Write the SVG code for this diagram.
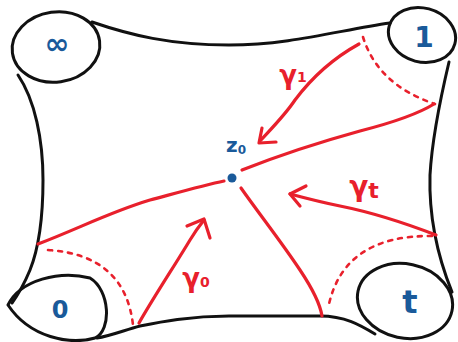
<svg xmlns="http://www.w3.org/2000/svg" width="458" height="342" viewBox="0 0 458 342">
<style>
.blk{fill:none;stroke:#111;stroke-width:3;stroke-linecap:round;stroke-linejoin:round}
.red{fill:none;stroke:#e8202c;stroke-width:3.2;stroke-linecap:round;stroke-linejoin:round}
.dot{fill:none;stroke:#e8202c;stroke-width:2.6;stroke-linecap:round;stroke-dasharray:4 6}
.lab{font-family:"DejaVu Sans",sans-serif;fill:#1a5a9a;text-anchor:middle;font-weight:bold}
.rl{font-family:"DejaVu Sans",sans-serif;fill:#e8202c;text-anchor:middle;font-weight:bold}
</style>
<rect width="458" height="342" fill="#fff"/>
<g id="outline">
<path class="blk" d="M92,22 C130,35 170,45 229,45 C290,45 340,30 390,23"/>
<path class="blk" d="M449,62 C440,100 432,140 430,175 C429,210 435,250 452,292"/>
<path class="blk" d="M375,334 C360,325 345,316 320,316 L229,316 C190,316 160,322 140,326 C125,330 110,336 97,338"/>
<path class="blk" d="M18,75 C35,100 43,140 43,180 C43,220 38,250 30,270 C25,282 20,292 12,303"/>
</g>
<g id="n-inf">
<ellipse class="blk" cx="56" cy="47" rx="44" ry="35" transform="rotate(-8 56 47)"/>
<text class="lab" x="57" y="54" font-size="30">∞</text>
</g>
<g id="n-1">
<ellipse class="blk" cx="422" cy="35" rx="34" ry="27" transform="rotate(15 422 35)"/>
<text class="lab" x="424" y="47" font-size="28">1</text>
</g>
<g id="n-t">
<ellipse class="blk" cx="405" cy="301" rx="48" ry="37" transform="rotate(12 405 301)"/>
<text class="lab" x="410" y="313" font-size="32">t</text>
</g>
<g id="n-0">
<path class="blk" d="M8,305 C20,280 60,270 90,278 C110,290 112,330 95,338 C70,345 30,338 8,305 Z"/>
<text class="lab" x="60" y="318" font-size="24">0</text>
</g>
<g id="n-z0">
<circle cx="232" cy="178" r="4.5" fill="#1a5a9a"/>
<text class="lab" x="236" y="152" font-size="20">z<tspan font-size="12" dy="2">0</tspan></text>
</g>
<g id="connectors">
<path class="red" d="M38,244 C80,228 110,212 150,200 C180,192 205,185 224,181"/>
<path class="red" d="M242,170 C280,155 320,142 360,131 C395,122 418,114 434,104"/>
<path class="red" d="M241,188 C260,215 280,240 300,270 C312,288 320,303 322,316"/>
<path class="dot" d="M363,37 Q378,85 435,104"/>
<path class="dot" d="M48,250 Q125,255 133,325"/>
<path class="dot" d="M432,236 Q345,235 329,304"/>
<path class="red" d="M359,44 C330,60 310,80 295,100 C285,115 272,128 260,141"/>
<path class="red" d="M262,128 L259,143 L276,142"/>
<path class="red" d="M436,235 C410,225 370,212 340,206 C320,202 305,198 290,194"/>
<path class="red" d="M306,186 L290,194 L300,206"/>
<path class="red" d="M139,323 C155,295 175,265 190,240 C196,230 200,225 204,220"/>
<path class="red" d="M187,226 L204,219 L210,238"/>
</g>
<g id="labels">
<text class="rl" x="293" y="84" font-size="26">γ<tspan font-size="14" dy="-2">1</tspan></text>
<text class="rl" x="364" y="196" font-size="28">γ<tspan font-size="22" dy="2">t</tspan></text>
<text class="rl" x="196" y="287" font-size="26">γ<tspan font-size="14" dy="0">0</tspan></text>
</g>
</svg>
